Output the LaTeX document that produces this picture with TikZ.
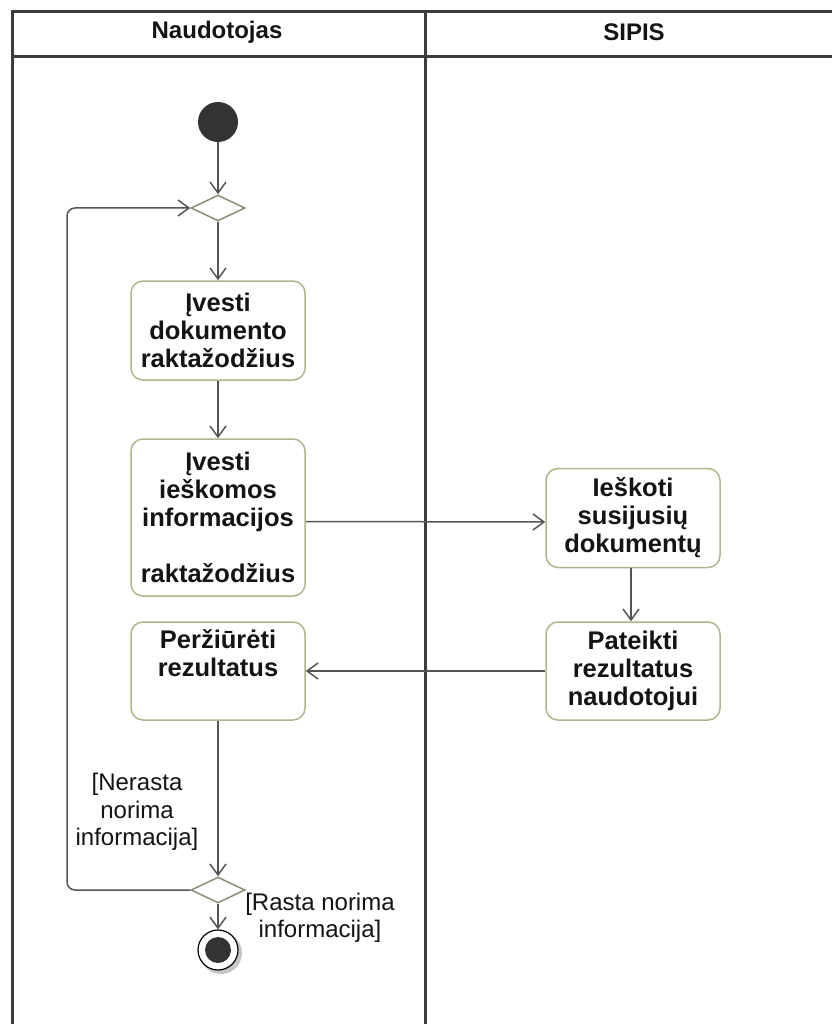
\documentclass[tikz,border=0pt]{standalone}
\usepackage{fontspec}
\setmainfont{Liberation Sans}
\usetikzlibrary{arrows.meta,shapes.geometric}
\definecolor{laneC}{HTML}{3C3C3C}
\definecolor{boxC}{HTML}{B4B48C}
\definecolor{decC}{HTML}{8C8C78}
\definecolor{flowC}{HTML}{555555}
\definecolor{startC}{HTML}{333333}
\definecolor{txtC}{HTML}{141414}
\begin{document}
\begin{tikzpicture}[x=1pt,y=-1pt,
  lane/.style={draw=laneC,line width=3pt,line join=miter},
  act/.style={draw=boxC,line width=1.5pt,rounded corners=12pt,fill=white,minimum width=174pt,align=center,font=\bfseries\fontsize{25.5}{28}\selectfont,inner sep=0pt,text=txtC},
  acttext/.style={align=center,font=\bfseries\fontsize{25.5}{28}\selectfont,inner sep=0pt,text=txtC},
  dec/.style={draw=decC,line width=1.5pt,diamond,minimum width=54pt,minimum height=26pt,inner sep=0pt,fill=white},
  flow/.style={draw=flowC,line width=1.5pt,-{Straight Barb[length=11pt,width=16pt,line width=1.5pt]}},
  guard/.style={font=\fontsize{24}{27.5}\selectfont,align=center,text=txtC,inner sep=0pt},
  head/.style={font=\bfseries\fontsize{24}{26}\selectfont,text=txtC}
]
\useasboundingbox (0,0) rectangle (831,1024);
\fill[white] (0,0) rectangle (831,1024);
% swimlanes
\draw[lane] (12,1030) -- (12,12) -- (840,12);
\draw[lane] (12,57) -- (840,57);
\draw[lane] (425,12) -- (425,1030);
\node[head] (h1) at (217,32) {Naudotojas};
\node[head] (h2) at (634,32) {SIPIS};
% nodes
\node[circle,fill=startC,minimum size=40pt,inner sep=0pt] (start) at (218,122) {};
\node[dec] (d1) at (218,208) {};
\node[act,minimum height=99pt] (b1) at (218,330.5) {Įvesti\\dokumento\\raktažodžius};
\node[act,minimum height=157pt] (b2) at (218,517.5) {Įvesti\\ieškomos\\informacijos\\[28pt]raktažodžius};
\node[act,minimum height=99pt] (b3) at (633,518) {Ieškoti\\susijusių\\dokumentų};
\node[act,minimum height=98pt] (b4) at (633,671) {Pateikti\\rezultatus\\naudotojui};
\node[act,minimum height=98pt] (b5) at (218,671) {};
\node[acttext] (b5t) at (218,653) {Peržiūrėti\\rezultatus};
\node[dec] (d2) at (218,890) {};
\fill[gray!45] (221,953) circle (21pt);
\node[circle,draw=black,line width=1.2pt,fill=white,minimum size=40pt,inner sep=0pt] (end) at (218,950) {};
\fill[startC] (end.center) circle (13pt);
\coordinate (loopB) at (67,890);
\coordinate (loopT) at (67,208);
% guards
\node[guard] (g1) at (137,812) {[Nerasta\\norima\\informacija]};
\node[guard] (g2) at (320,918) {[Rasta norima\\informacija]};
% flows
\draw[flow] (start) -- (d1.north);
\draw[flow] (d1.south) -- (b1.north);
\draw[flow] (b1.south) -- (b2.north);
\draw[flow] ([yshift=-4pt]b2.east) -- ([yshift=-4pt]b3.west);
\draw[flow] ([xshift=-2pt]b3.south) -- ([xshift=-2pt]b4.north);
\draw[flow] (b4.west) -- (b5.east);
\draw[flow] (b5.south) -- (d2.north);
\draw[flow] (d2.south) -- (end.north);
\draw[flow,rounded corners=8pt] (d2.west) -- (loopB) -- (loopT) -- (d1.west);
\end{tikzpicture}
\end{document}
